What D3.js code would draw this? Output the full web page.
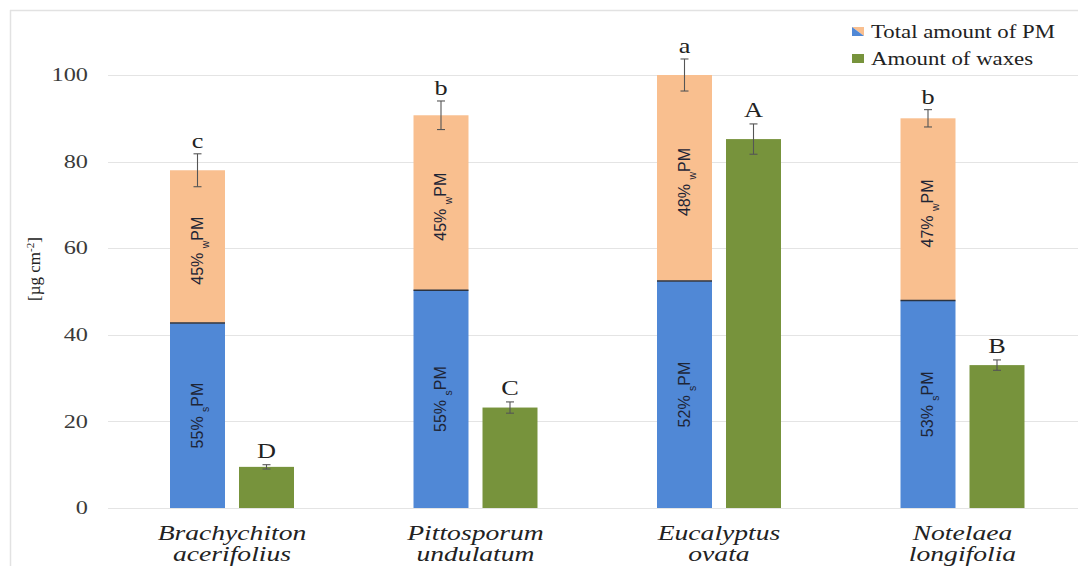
<!DOCTYPE html>
<html>
<head>
<meta charset="utf-8">
<script src="https://cdn.jsdelivr.net/npm/d3@7"></script>
<style>
  html, body { margin: 0; padding: 0; background: #fff; }
  svg { display: block; }
</style>
</head>
<body>
<svg id="chart" width="1078" height="566"></svg>
<script>
// Species (two-line italic labels)
const species = [
  ["Brachychiton", "acerifolius"],
  ["Pittosporum", "undulatum"],
  ["Eucalyptus", "ovata"],
  ["Notelaea", "longifolia"]
];
// Total PM (µg cm-2) and its surface (sPM) part
const totalPM   = [78.0, 90.7, 100.0, 90.0];
const surfacePM = [42.7, 50.3, 52.4, 47.9];
const totalErr  = [3.8, 3.3, 3.7, 2.0];
const surfaceShare = ["55%", "55%", "52%", "53%"];
const waxShare     = ["45%", "45%", "48%", "47%"];
const pmLetters    = ["c", "b", "a", "b"];
// Amount of waxes (µg cm-2)
const waxes    = [9.5, 23.2, 85.2, 33.0];
const waxErr   = [0.5, 1.3, 3.5, 1.2];
const waxLetters = ["D", "C", "A", "B"];
// Y axis ticks
const yTicks = [0, 20, 40, 60, 80, 100];

const BLUE = "#5088d6", ORANGE = "#f9bf8f", GREEN = "#77933c";
const SERIF = "'Liberation Serif', 'Times New Roman', serif";
const NARROW = "'Liberation Sans Narrow', 'Arial Narrow', 'Liberation Sans', sans-serif";

const svg = d3.select("#chart");

// widen serif glyphs horizontally
function widen(sel, f) {
  sel.each(function () {
    const w = this.getComputedTextLength();
    d3.select(this).attr("textLength", w * f).attr("lengthAdjust", "spacingAndGlyphs");
  });
}

// frame of the chart area
svg.append("line").attr("x1", 10).attr("x2", 1078).attr("y1", 10.5).attr("y2", 10.5)
  .attr("stroke", "#e2e2e2").attr("stroke-width", 1.5);
svg.append("line").attr("x1", 10.5).attr("x2", 10.5).attr("y1", 10).attr("y2", 566)
  .attr("stroke", "#e2e2e2").attr("stroke-width", 1.5);

const x = d3.scaleBand().domain(d3.range(species.length)).range([110.25, 1084.25]).padding(0);
const inner = d3.scaleBand().domain(["pm", "wax"]).range([0, x.bandwidth()])
  .paddingInner(0.203).paddingOuter(0.866);
const y = d3.scaleLinear().domain([0, 100]).range([508, 75]);

// gridlines
svg.append("g").selectAll("line").data(yTicks).join("line")
  .attr("x1", 108).attr("x2", 1078)
  .attr("y1", d => Math.round(y(d)) + 0.5).attr("y2", d => Math.round(y(d)) + 0.5)
  .attr("stroke", "#e4e4e4").attr("stroke-width", 1.2);

// y axis labels
const yAxis = d3.axisLeft(y).tickValues(yTicks).tickSize(0).tickPadding(0);
const gy = svg.append("g").attr("transform", "translate(88,0)").call(yAxis);
gy.select(".domain").remove();
gy.selectAll("text").attr("font-family", SERIF).attr("font-size", 18)
  .attr("fill", "#3a3a3a").attr("dy", "0.32em");
widen(gy.selectAll("text"), 1.35);

// y axis title
const yt = svg.append("text").attr("transform", "translate(40,269) rotate(-90)")
  .attr("text-anchor", "middle").attr("font-family", SERIF).attr("font-size", 17).attr("fill", "#222");
yt.append("tspan").text("[µg cm");
yt.append("tspan").attr("baseline-shift", "super").attr("font-size", 11).text("-2");
yt.append("tspan").text("]");

const idx = d3.range(species.length);
const bw = inner.bandwidth();

// stacked PM bars: surface part (blue) and wax-bound part (orange)
const gBars = svg.append("g");
gBars.selectAll("rect.spm").data(idx).join("rect").attr("class", "spm")
  .attr("x", i => x(i) + inner("pm")).attr("width", bw)
  .attr("y", i => y(surfacePM[i])).attr("height", i => y(0) - y(surfacePM[i]))
  .attr("fill", BLUE);
gBars.selectAll("rect.wpm").data(idx).join("rect").attr("class", "wpm")
  .attr("x", i => x(i) + inner("pm")).attr("width", bw)
  .attr("y", i => y(totalPM[i])).attr("height", i => y(surfacePM[i]) - y(totalPM[i]))
  .attr("fill", ORANGE);
gBars.selectAll("line.div").data(idx).join("line").attr("class", "div")
  .attr("x1", i => x(i) + inner("pm")).attr("x2", i => x(i) + inner("pm") + bw)
  .attr("y1", i => y(surfacePM[i])).attr("y2", i => y(surfacePM[i]))
  .attr("stroke", "#2b3340").attr("stroke-width", 1.5);
// waxes bars
gBars.selectAll("rect.wax").data(idx).join("rect").attr("class", "wax")
  .attr("x", i => x(i) + inner("wax")).attr("width", bw)
  .attr("y", i => y(waxes[i])).attr("height", i => y(0) - y(waxes[i]))
  .attr("fill", GREEN);

// error bars
function errorBar(g, cx, v, e) {
  const cap = 4;
  g.append("line").attr("x1", cx).attr("x2", cx).attr("y1", y(v + e)).attr("y2", y(v - e));
  g.append("line").attr("x1", cx - cap).attr("x2", cx + cap).attr("y1", y(v + e)).attr("y2", y(v + e));
  g.append("line").attr("x1", cx - cap).attr("x2", cx + cap).attr("y1", y(v - e)).attr("y2", y(v - e));
}
const gErr = svg.append("g").attr("stroke", "#555").attr("stroke-width", 1.1);
idx.forEach(i => {
  errorBar(gErr, x(i) + inner("pm") + bw / 2, totalPM[i], totalErr[i]);
  errorBar(gErr, x(i) + inner("wax") + bw / 2, waxes[i], waxErr[i]);
});

// significance letters
const l1 = svg.append("g").selectAll("text").data(idx).join("text")
  .attr("x", i => x(i) + inner("pm") + bw / 2)
  .attr("y", i => y(totalPM[i] + totalErr[i]) - 6)
  .attr("text-anchor", "middle").attr("font-family", SERIF).attr("font-size", 21).attr("fill", "#222")
  .text(i => pmLetters[i]);
const l2 = svg.append("g").selectAll("text").data(idx).join("text")
  .attr("x", i => x(i) + inner("wax") + bw / 2)
  .attr("y", i => y(waxes[i] + waxErr[i]) - 7)
  .attr("text-anchor", "middle").attr("font-family", SERIF).attr("font-size", 21).attr("fill", "#222")
  .text(i => waxLetters[i]);
widen(l1, 1.25);
widen(l2, 1.25);

// percentage labels inside the stacked segments
function shareLabel(cx, cy, pct, sub) {
  const t = svg.append("text").attr("transform", `translate(${cx + 5},${cy}) rotate(-90)`)
    .attr("text-anchor", "middle").attr("font-family", NARROW).attr("font-size", 16).attr("fill", "#1e2536");
  t.append("tspan").text(pct + " ");
  t.append("tspan").attr("baseline-shift", "sub").attr("font-size", 10.5).text(sub);
  t.append("tspan").text("PM");
}
idx.forEach(i => {
  const cx = x(i) + inner("pm") + bw / 2;
  shareLabel(cx, (y(0) + y(surfacePM[i])) / 2, surfaceShare[i], "s");
  shareLabel(cx, (y(surfacePM[i]) + y(totalPM[i])) / 2 + 4, waxShare[i], "w");
});

// species labels
const gx = svg.append("g");
idx.forEach(i => {
  const cx = x(i) + x.bandwidth() / 2;
  species[i].forEach((line, k) => {
    gx.append("text").attr("x", cx).attr("y", 540 + k * 21)
      .attr("text-anchor", "middle").attr("font-family", SERIF).attr("font-style", "italic")
      .attr("font-size", 20).attr("fill", "#222").text(line);
  });
});
widen(gx.selectAll("text"), 1.38);

// legend
const legend = svg.append("g");
const sw = legend.append("g").attr("transform", "translate(852,27)");
sw.append("path").attr("d", "M0,0 L12,0 L12,9 Z").attr("fill", ORANGE);
sw.append("path").attr("d", "M0,0 L12,9 L0,9 Z").attr("fill", BLUE);
legend.append("rect").attr("x", 852).attr("y", 54).attr("width", 12).attr("height", 9).attr("fill", GREEN);
const lt = legend.selectAll("text.lg").data(["Total amount of PM", "Amount of waxes"]).join("text")
  .attr("class", "lg").attr("x", 871).attr("y", (d, k) => 38 + k * 27)
  .attr("font-family", SERIF).attr("font-size", 19).attr("fill", "#222").text(d => d);
widen(lt, 1.2);
</script>
</body>
</html>
